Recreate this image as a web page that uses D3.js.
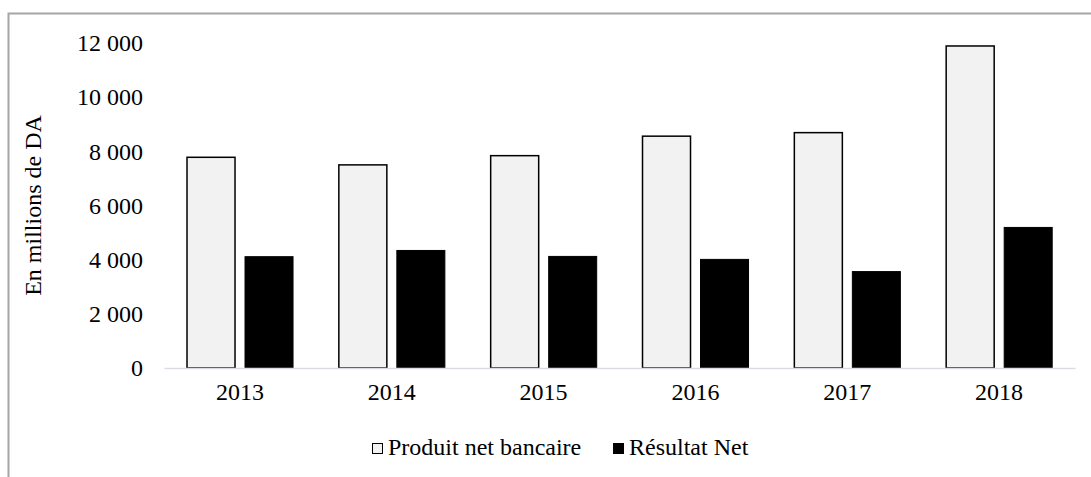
<!DOCTYPE html>
<html>
<head>
<meta charset="utf-8">
<script src="https://cdn.jsdelivr.net/npm/d3@7"></script>
<style>
  html, body { margin: 0; padding: 0; background: #fff; }
  svg { display: block; }
</style>
</head>
<body>
<svg id="chart" width="1091" height="477"></svg>
<script>
const years = ["2013", "2014", "2015", "2016", "2017", "2018"];
const produitNetBancaire = [7780, 7500, 7840, 8560, 8690, 11890];
const resultatNet = [4110, 4340, 4120, 4010, 3560, 5190];
const seriesNames = ["Produit net bancaire", "Résultat Net"];
const yTicks = [0, 2000, 4000, 6000, 8000, 10000, 12000];
const yAxisTitle = "En millions de DA";

const FONT = "'Liberation Serif', 'Times New Roman', Times, serif";
const FS = "24px";

const svg = d3.select("#chart");

// outer frame (cropped on right/bottom)
svg.append("path")
  .attr("d", "M8.5,477 L8.5,13.5 L1091,13.5")
  .attr("fill", "none")
  .attr("stroke", "#a6a6a6")
  .attr("stroke-width", 2);

const plot = { left: 164, right: 1075, top: 43, bottom: 368 };

const x0 = d3.scaleBand().domain(years).range([plot.left, plot.right]).padding(0);
const x1 = d3.scaleBand().domain([0, 1])
  .range([x0.bandwidth() * 23 / 151.8, x0.bandwidth() * 129 / 151.8])
  .paddingInner(10 / 58).paddingOuter(0);
const y = d3.scaleLinear().domain([0, 12000]).range([plot.bottom, plot.top]);

const fmt = d3.formatLocale({ decimal: ",", thousands: "\u00a0", grouping: [3], currency: ["", ""] }).format(",d");

// y axis (labels only)
const yAxis = d3.axisLeft(y).tickValues(yTicks).tickFormat(fmt).tickSize(0).tickPadding(0);
const gy = svg.append("g").attr("transform", `translate(143,0)`).call(yAxis);
gy.select(".domain").remove();
gy.attr("font-family", null).attr("font-size", null);
gy.selectAll("text").style("font-size", FS).style("font-family", FONT).attr("fill", "#000");

// bars
const data = years.map((yr, i) => ({ year: yr, vals: [produitNetBancaire[i], resultatNet[i]] }));
const groups = svg.append("g").selectAll("g").data(data).join("g")
  .attr("transform", d => `translate(${x0(d.year)},0)`);

groups.append("rect")
  .attr("x", x1(0))
  .attr("y", d => y(d.vals[0]))
  .attr("width", x1.bandwidth())
  .attr("height", d => y(0) - y(d.vals[0]))
  .attr("fill", "#f2f2f2")
  .attr("stroke", "#000")
  .attr("stroke-width", 1.5);

groups.append("rect")
  .attr("x", x1(1))
  .attr("y", d => y(d.vals[1]))
  .attr("width", x1.bandwidth())
  .attr("height", d => y(0) - y(d.vals[1]))
  .attr("fill", "#000")
  .attr("stroke", "#000")
  .attr("stroke-width", 1);

// x axis
const xAxis = d3.axisBottom(x0).tickSize(0).tickPadding(15);
const gx = svg.append("g").attr("transform", `translate(0,${plot.bottom})`).call(xAxis);
gx.attr("font-family", null).attr("font-size", null);
gx.select(".domain").attr("stroke", "#d9dde3").attr("stroke-width", 1.5);
gx.selectAll("text").style("font-size", FS).style("font-family", FONT).attr("fill", "#000");

// y axis title
svg.append("text")
  .attr("transform", `translate(35,${(plot.top + plot.bottom) / 2}) rotate(-90)`)
  .attr("text-anchor", "middle")
  .attr("dominant-baseline", "middle")
  .style("font-size", FS).style("font-family", FONT)
  .text(yAxisTitle);

// legend
const legend = svg.append("g");
const legendItems = [
  { name: seriesNames[0], fill: "#f2f2f2", x: 372 },
  { name: seriesNames[1], fill: "#000", x: 613 }
];
legendItems.forEach(it => {
  legend.append("rect").attr("x", it.x + 0.5).attr("y", 443.5).attr("width", 10).attr("height", 10)
    .attr("fill", it.fill).attr("stroke", "#000").attr("stroke-width", 1);
  legend.append("text").attr("x", it.x + 16).attr("y", 449)
    .attr("dominant-baseline", "middle")
    .style("font-size", FS).style("font-family", FONT).text(it.name);
});
</script>
</body>
</html>
